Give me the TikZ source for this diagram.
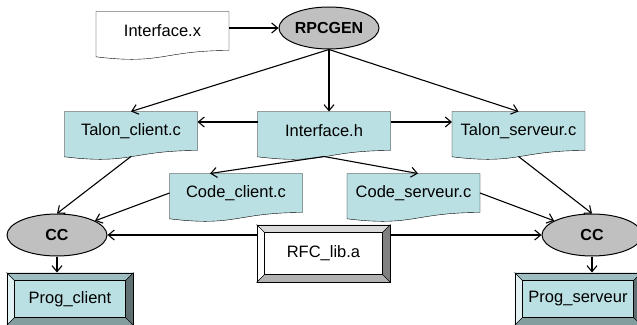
\documentclass[tikz,border=0pt]{standalone}
\usepackage{fontspec}
\setmainfont{Liberation Sans}
\usetikzlibrary{arrows.meta,calc,backgrounds,shapes.geometric}

\definecolor{docblue}{RGB}{187,224,227}
\definecolor{ovalgray}{RGB}{192,192,192}

% outline of a document node (wavy bottom)
\newcommand{\docpath}[1]{(#1.north west) -- (#1.north east) -- (#1.south east)
  .. controls (#1.south) and ($(#1.south)+(0,14.5)$) .. ($(#1.south west)+(0,6.3)$) -- cycle}
% bevelled frame round a node
\newcommand{\bevelbox}[2]{%
  \fill[#2!45!white] (#1.north west) -- ($(#1.north west)+(8,8)$) -- ($(#1.south west)+(8,-8)$) -- (#1.south west) -- cycle;
  \fill[#2!85!black] (#1.north west) -- (#1.north east) -- ($(#1.north east)+(-8,8)$) -- ($(#1.north west)+(8,8)$) -- cycle;
  \fill[#2!50!black] (#1.north east) -- (#1.south east) -- ($(#1.south east)+(-8,-8)$) -- ($(#1.north east)+(-8,8)$) -- cycle;
  \fill[#2!70!black] (#1.south west) -- (#1.south east) -- ($(#1.south east)+(-8,-8)$) -- ($(#1.south west)+(8,-8)$) -- cycle;
  \filldraw[fill=#2] ($(#1.north west)+(8,8)$) rectangle ($(#1.south east)+(-8,-8)$);
  \draw (#1.north west) -- +(8,8) (#1.north east) -- +(-8,8)
        (#1.south west) -- +(8,-8) (#1.south east) -- +(-8,-8);
}

\begin{document}
\begin{tikzpicture}[x=1pt, y=-1pt, line width=1pt, >={Straight Barb[length=6pt,width=10pt]},
    doc/.style={minimum width=132pt, minimum height=38pt, inner sep=0pt, font=\fontsize{16.5}{19}\selectfont},
    oval/.style={ellipse, draw, fill=ovalgray, minimum width=100pt, minimum height=42pt, inner sep=0pt,
      font=\fontsize{16}{19}\selectfont\bfseries},
    bevel/.style={draw, minimum width=126pt, minimum height=52pt, inner sep=0pt, font=\fontsize{16.5}{19}\selectfont},
    link/.style={->, line width=1.1pt}]
    \useasboundingbox (0,0) rectangle (637,324);

    % nodes
    \node[doc] (ifx) at (162.5,31) {Interface.x};
    \node[oval] (rpcgen) at (329,28) {RPCGEN};
    \node[doc] (tc) at (131,131) {Talon\_client.c};
    \node[doc] (ih) at (324,131) {Interface.h};
    \node[doc] (ts) at (518.5,131) {Talon\_serveur.c};
    \node[doc] (cc) at (236,193) {Code\_client.c};
    \node[doc] (cs) at (413.5,193) {Code\_serveur.c};
    \node[oval] (ccl) at (57,235) {CC};
    \node[oval] (ccr) at (592,235) {CC};
    \node[bevel, minimum width=133pt, minimum height=57pt] (rfc) at (323.5,253.5) {RFC\_lib.a};
    \node[bevel] (pc) at (70,299) {Prog\_client};
    \node[bevel] (ps) at (578,299) {Prog\_serveur};

    \begin{scope}[on background layer]
      \filldraw[fill=white] \docpath{ifx};
      \foreach \n in {tc,ih,ts,cc,cs}
        \filldraw[fill=docblue] \docpath{\n};
      \bevelbox{rfc}{white}
      \bevelbox{pc}{docblue}
      \bevelbox{ps}{docblue}
    \end{scope}

    % connectors
    \draw[link] (ifx.east |- rpcgen.west) -- (rpcgen.west);
    \draw[link] (rpcgen.south) -- (tc.north);
    \draw[link] (rpcgen.south) -- (rpcgen.south |- ih.north);
    \draw[link] (rpcgen.south) -- (ts.north);
    \draw[link] ([yshift=9pt]ih.west) -- ([yshift=9pt]tc.east);
    \draw[link] ([yshift=9pt]ih.east) -- ([yshift=9pt]ts.west);
    \draw[link] ([yshift=-6pt]ih.south) -- ([xshift=-26pt]cc.north);
    \draw[link] ([yshift=-6pt]ih.south) -- ([xshift=4.5pt]cs.north);
    \draw[link] ([yshift=-6pt]tc.south) -- (ccl.north);
    \draw[link] ([yshift=-6pt]ts.south) -- (ccr.north);
    \draw[link] (cc.west) -- (ccl);
    \draw[link] (cs.east) -- (ccr);
    \draw[link] (rfc.west |- ccl.east) -- (ccl.east);
    \draw[link] (rfc.east |- ccr.west) -- (ccr.west);
    \draw[link] (ccl.south) -- (ccl.south |- pc.north);
    \draw[link] (ccr.south) -- (ccr.south |- ps.north);
\end{tikzpicture}
\end{document}
